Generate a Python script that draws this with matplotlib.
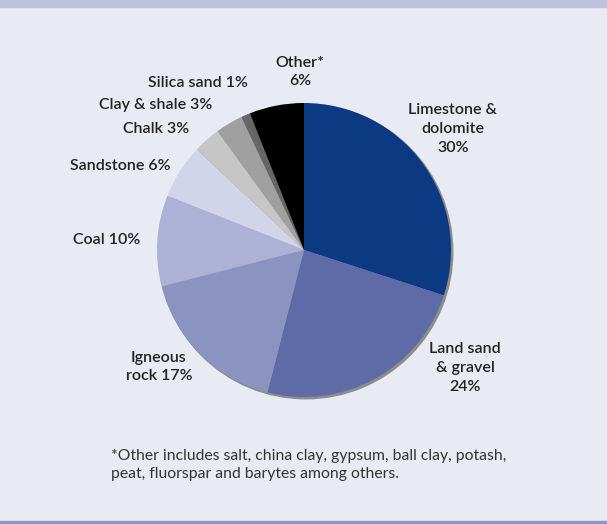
import matplotlib
matplotlib.use("Agg")
import matplotlib.pyplot as plt
from matplotlib.patches import Circle, Rectangle

# data
labels = ["Limestone &\ndolomite\n30%", "Land sand\n& gravel\n24%", "Igneous\nrock 17%",
          "Coal 10%", "Sandstone 6%", "Chalk 3%", "Clay & shale 3%", "Silica sand 1%", "Other*\n6%"]
shares = [30, 24, 17, 10, 6, 3, 3, 1, 6]
colors = ["#0b3a82", "#5e6ba6", "#8b94c1", "#adb1d6", "#d2d5ea", "#c6c6c6", "#a0a0a0", "#666666", "#000000"]

# label anchor points in pixels (x, y from top) and alignment
label_px = [(453, 129), (465, 368), (159, 367), (140, 240), (170, 166),
            (189, 129), (212, 105), (248, 83), (300, 72)]
label_ha = ["center", "center", "center", "right", "right", "right", "right", "right", "center"]

footnote = "*Other includes salt, china clay, gypsum, ball clay, potash,\npeat, fluorspar and barytes among others."

W, H = 607, 524
cx, cy, R = 304, 250, 147
bg = "#e9ebf4"

fig = plt.figure(figsize=(W / 100, H / 100), dpi=100, facecolor=bg)
ax = fig.add_axes([0, 0, 1, 1])
ax.axis("off")

font = ["Lato", "DejaVu Sans"]

# soft shadow behind pie
ax.add_patch(Circle((0.012, -0.012), 1.0, color="#8c8c8c", zorder=1))
ax.pie(shares, colors=colors, startangle=90, counterclock=False, radius=1.0,
       wedgeprops=dict(linewidth=0, zorder=2))

ax.set_xlim(-cx / R, (W - cx) / R)
ax.set_ylim(-(H - cy) / R, cy / R)
ax.set_aspect("equal")

for lab, (px, py), ha in zip(labels, label_px, label_ha):
    ax.text((px - cx) / R, (cy - py) / R, lab, ha=ha, va="center", fontsize=11.5,
            family=font, weight="semibold", color="#222222", linespacing=1.45, zorder=5)

ax.text((111 - cx) / R, (cy - 465) / R, footnote, ha="left", va="center", fontsize=11.3,
        family=font, color="#333333", linespacing=1.45)

# frame bands
fig.patches.append(Rectangle((0, 1 - 7 / H), 1, 7 / H, transform=fig.transFigure,
                             color="#bec2de", zorder=0))
fig.patches.append(Rectangle((0, 0), 1, 3 / H, transform=fig.transFigure,
                             color="#8c95c4", zorder=0))

fig.savefig("out.png", dpi=100, facecolor=bg)
